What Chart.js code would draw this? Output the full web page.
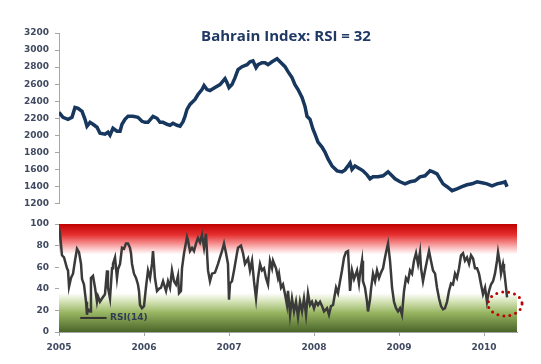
<!DOCTYPE html>
<html>
<head>
<meta charset="utf-8">
<script src="https://cdn.jsdelivr.net/npm/chart.js@4/dist/chart.umd.min.js"></script>
<style>
  body { margin: 0; background: #fff; }
  #wrap { position: relative; width: 541px; height: 364px; }
  #topBox { position: absolute; left: 0; top: 0; width: 541px; height: 215px; }
  #rsiBox { position: absolute; left: 0; top: 210px; width: 541px; height: 156px; }
  #title { position: absolute; left: 0; width: 572px; top: 25px; text-align: center;
           font: bold 15px "Open Sans", sans-serif; color: #1f3864; }
</style>
</head>
<body>
<div id="wrap">
  <div id="topBox"><canvas id="priceChart"></canvas></div>
  <div id="rsiBox"><canvas id="rsiChart"></canvas></div>
  <div id="title">Bahrain Index: RSI = 32</div>
</div>
<script>
// Bahrain index level (decimal year, index value)
const priceDates = [
  2005.000, 2005.047, 2005.106, 2005.153, 2005.188, 2005.224, 2005.271, 2005.306, 2005.329, 2005.365,
  2005.400, 2005.447, 2005.482, 2005.541, 2005.576, 2005.600, 2005.635, 2005.682, 2005.718, 2005.741,
  2005.776, 2005.812, 2005.871, 2005.929, 2005.976, 2006.012, 2006.047, 2006.106, 2006.153, 2006.188,
  2006.224, 2006.271, 2006.306, 2006.341, 2006.388, 2006.424, 2006.459, 2006.482, 2006.506, 2006.541,
  2006.600, 2006.635, 2006.682, 2006.706, 2006.741, 2006.776, 2006.835, 2006.894, 2006.953, 2006.976,
  2007.000, 2007.035, 2007.071, 2007.106, 2007.153, 2007.212, 2007.247, 2007.282, 2007.318, 2007.341,
  2007.388, 2007.424, 2007.459, 2007.506, 2007.565, 2007.600, 2007.659, 2007.694, 2007.741, 2007.776,
  2007.812, 2007.859, 2007.894, 2007.918, 2007.953, 2007.988, 2008.012, 2008.047, 2008.094, 2008.129,
  2008.165, 2008.212, 2008.271, 2008.329, 2008.365, 2008.400, 2008.424, 2008.447, 2008.482, 2008.541,
  2008.576, 2008.624, 2008.659, 2008.694, 2008.753, 2008.812, 2008.871, 2008.918, 2008.953, 2009.012,
  2009.071, 2009.129, 2009.188, 2009.247, 2009.306, 2009.365, 2009.400, 2009.447, 2009.482, 2009.518,
  2009.565, 2009.624, 2009.682, 2009.741, 2009.800, 2009.859, 2009.918, 2009.976, 2010.035, 2010.094,
  2010.153, 2010.212, 2010.247, 2010.271
];
const priceValues = [
  2270, 2211, 2188, 2211, 2328, 2316, 2281, 2188, 2107, 2153,
  2130, 2095, 2025, 2014, 2037, 2002, 2083, 2049, 2049, 2130,
  2188, 2223, 2223, 2211, 2165, 2153, 2153, 2223, 2200, 2153,
  2153, 2130, 2118, 2142, 2118, 2107, 2160, 2223, 2305, 2363,
  2421, 2479, 2537, 2584, 2537, 2526, 2560, 2595, 2665, 2619,
  2560, 2595, 2677, 2770, 2805, 2828, 2863, 2874, 2793, 2828,
  2851, 2851, 2828, 2863, 2898, 2863, 2805, 2747, 2677, 2595,
  2537, 2444, 2339, 2223, 2188, 2072, 2014, 1921, 1863, 1804,
  1723, 1642, 1584, 1572, 1595, 1642, 1677, 1600, 1642, 1607,
  1584, 1537, 1491, 1514, 1514, 1526, 1572, 1526, 1491, 1456,
  1432, 1456, 1467, 1514, 1526, 1584, 1572, 1549, 1491, 1432,
  1398, 1351, 1374, 1398, 1421, 1432, 1456, 1444, 1432, 1409,
  1432, 1444, 1456, 1398
];

// RSI(14) (decimal year, value)
const rsiDates = [
  2005.000, 2005.012, 2005.035, 2005.059, 2005.094, 2005.106, 2005.118, 2005.141, 2005.165, 2005.188,
  2005.212, 2005.235, 2005.259, 2005.271, 2005.294, 2005.318, 2005.329, 2005.341, 2005.365, 2005.376,
  2005.400, 2005.424, 2005.447, 2005.459, 2005.482, 2005.506, 2005.541, 2005.565, 2005.576, 2005.600,
  2005.624, 2005.635, 2005.659, 2005.682, 2005.694, 2005.718, 2005.741, 2005.765, 2005.788, 2005.812,
  2005.835, 2005.847, 2005.859, 2005.882, 2005.906, 2005.929, 2005.941, 2005.953, 2005.976, 2006.000,
  2006.024, 2006.047, 2006.071, 2006.094, 2006.106, 2006.129, 2006.153, 2006.176, 2006.200, 2006.224,
  2006.259, 2006.282, 2006.306, 2006.329, 2006.353, 2006.376, 2006.400, 2006.412, 2006.435, 2006.447,
  2006.471, 2006.506, 2006.518, 2006.541, 2006.565, 2006.588, 2006.612, 2006.635, 2006.659, 2006.682,
  2006.706, 2006.729, 2006.753, 2006.776, 2006.800, 2006.835, 2006.871, 2006.894, 2006.918, 2006.941,
  2006.965, 2006.988, 2007.000, 2007.012, 2007.035, 2007.059, 2007.094, 2007.106, 2007.141, 2007.165,
  2007.188, 2007.224, 2007.247, 2007.271, 2007.294, 2007.318, 2007.341, 2007.365, 2007.388, 2007.412,
  2007.435, 2007.459, 2007.482, 2007.506, 2007.518, 2007.553, 2007.576, 2007.588, 2007.612, 2007.635,
  2007.659, 2007.682, 2007.694, 2007.718, 2007.741, 2007.765, 2007.788, 2007.812, 2007.835, 2007.859,
  2007.882, 2007.906, 2007.929, 2007.953, 2007.976, 2008.000, 2008.024, 2008.047, 2008.071, 2008.094,
  2008.118, 2008.153, 2008.176, 2008.200, 2008.224, 2008.259, 2008.282, 2008.306, 2008.329, 2008.353,
  2008.376, 2008.400, 2008.412, 2008.424, 2008.447, 2008.471, 2008.506, 2008.529, 2008.541, 2008.565,
  2008.576, 2008.600, 2008.624, 2008.635, 2008.659, 2008.671, 2008.694, 2008.718, 2008.741, 2008.765,
  2008.788, 2008.812, 2008.835, 2008.859, 2008.871, 2008.894, 2008.906, 2008.918, 2008.941, 2008.965,
  2008.988, 2009.012, 2009.035, 2009.059, 2009.082, 2009.106, 2009.129, 2009.153, 2009.176, 2009.200,
  2009.224, 2009.247, 2009.259, 2009.282, 2009.306, 2009.329, 2009.353, 2009.376, 2009.400, 2009.424,
  2009.447, 2009.471, 2009.494, 2009.518, 2009.541, 2009.565, 2009.588, 2009.612, 2009.635, 2009.659,
  2009.682, 2009.706, 2009.729, 2009.753, 2009.776, 2009.800, 2009.824, 2009.847, 2009.871, 2009.894,
  2009.918, 2009.941, 2009.965, 2009.988, 2010.012, 2010.035, 2010.059, 2010.082, 2010.106, 2010.129,
  2010.153, 2010.165, 2010.188, 2010.200, 2010.224, 2010.235, 2010.259, 2010.271
];
const rsiValues = [
  96, 91, 71, 69, 59, 57, 42, 50, 54, 66,
  77, 74, 63, 49, 44, 28, 16, 21, 19, 50,
  52, 41, 28, 33, 28, 31, 35, 57, 41, 31,
  59, 63, 69, 50, 58, 63, 78, 77, 82, 82,
  78, 73, 63, 54, 50, 44, 38, 25, 22, 24,
  42, 57, 50, 63, 75, 50, 38, 40, 41, 47,
  38, 47, 41, 57, 47, 44, 52, 36, 38, 59,
  73, 88, 85, 75, 78, 75, 82, 87, 83, 90,
  78, 91, 57, 47, 54, 55, 63, 69, 75, 82,
  73, 63, 30, 45, 47, 57, 73, 78, 80, 73,
  63, 68, 57, 66, 47, 31, 50, 63, 57, 59,
  50, 44, 66, 59, 66, 59, 50, 54, 41, 44,
  35, 25, 38, 16, 31, 19, 28, 14, 28, 19,
  31, 16, 36, 25, 28, 22, 28, 25, 28, 24,
  19, 22, 16, 24, 25, 41, 36, 47, 57, 69,
  74, 75, 57, 38, 57, 49, 57, 45, 54, 66,
  47, 41, 28, 19, 30, 40, 54, 47, 57, 50,
  55, 59, 69, 78, 82, 66, 54, 41, 28, 22,
  19, 22, 16, 38, 50, 47, 57, 54, 66, 73,
  63, 74, 59, 47, 57, 66, 75, 66, 57, 54,
  41, 31, 24, 21, 22, 28, 38, 45, 44, 54,
  50, 59, 71, 73, 66, 69, 63, 71, 68, 59,
  59, 54, 44, 35, 41, 28, 38, 44, 47, 54,
  66, 74, 63, 54, 63, 58, 41, 32
];

const yearTicks = [2005, 2006, 2007, 2008, 2009, 2010];
const xMin = 2005;
const xMax = 2010.388;

const tickFont = { family: 'DejaVu Sans', size: 9, weight: 'bold' };
const tickColor = '#404a60';
const axisGray = '#a6a6a6';

function points(xs, ys) {
  return xs.map((x, i) => ({ x: x, y: ys[i] }));
}

function fixWidth(scale) { scale.width = 59; }
const plain = v => String(v);

// price panel
new Chart(document.getElementById('priceChart'), {
  type: 'line',
  data: {
    datasets: [{
      data: points(priceDates, priceValues),
      borderColor: '#17375e',
      borderWidth: 3.5,
      pointRadius: 0,
      tension: 0
    }]
  },
  options: {
    responsive: true,
    maintainAspectRatio: false,
    animation: false,
    layout: { padding: { top: 33, bottom: 10, right: 24, left: 0 } },
    plugins: { legend: { display: false }, tooltip: { enabled: false } },
    scales: {
      x: { type: 'linear', min: xMin, max: xMax, display: false },
      y: {
        min: 1200, max: 3200,
        afterFit: fixWidth,
        ticks: { stepSize: 200, font: tickFont, color: tickColor, padding: 6, callback: plain },
        grid: { drawOnChartArea: false, drawTicks: true, tickLength: 4, color: axisGray },
        border: { display: true, color: axisGray }
      }
    }
  }
});

// background bands: red overbought, white, green oversold
const rsiBands = {
  id: 'rsiBands',
  beforeDatasetsDraw(chart) {
    const { ctx, chartArea: a, scales: { y } } = chart;
    const g = ctx.createLinearGradient(0, a.top, 0, a.bottom);
    const stop = (v, c) => g.addColorStop((y.getPixelForValue(v) - a.top) / (a.bottom - a.top), c);
    stop(100, '#c00000');
    stop(90, '#e53030');
    stop(80, '#f9a5a5');
    stop(72, '#ffffff');
    stop(36, '#ffffff');
    stop(28, '#d4e2b6');
    stop(18, '#98b662');
    stop(0, '#4a652a');
    ctx.save();
    ctx.fillStyle = g;
    ctx.fillRect(a.left, a.top, a.right - a.left, a.bottom - a.top);
    ctx.restore();
  },
  afterDatasetsDraw(chart) {
    const { ctx, scales: { x, y } } = chart;
    // legend
    ctx.save();
    ctx.strokeStyle = '#333';
    ctx.lineWidth = 2;
    const ly = y.getPixelForValue(13);
    ctx.beginPath();
    ctx.moveTo(x.getPixelForValue(2005.25), ly);
    ctx.lineTo(x.getPixelForValue(2005.56), ly);
    ctx.stroke();
    ctx.fillStyle = '#2e3d52';
    ctx.font = 'bold 9px "DejaVu Sans"';
    ctx.textBaseline = 'middle';
    ctx.fillText('RSI(14)', x.getPixelForValue(2005.6), ly);
    // dotted ring around the latest reading
    const last = rsiDates.length - 1;
    const cx = x.getPixelForValue(rsiDates[last]) - 2;
    const cy = y.getPixelForValue(26);
    ctx.strokeStyle = '#c00000';
    ctx.lineWidth = 3;
    ctx.lineCap = 'round';
    ctx.setLineDash([0, 6]);
    ctx.beginPath();
    ctx.ellipse(cx, cy, 17, 12, 0, 0, Math.PI * 2);
    ctx.stroke();
    ctx.restore();
  }
};

// RSI panel
new Chart(document.getElementById('rsiChart'), {
  type: 'line',
  data: {
    datasets: [{
      data: points(rsiDates, rsiValues),
      borderColor: '#3a3a3a',
      borderWidth: 2.5,
      pointRadius: 0,
      tension: 0
    }]
  },
  options: {
    responsive: true,
    maintainAspectRatio: false,
    animation: false,
    layout: { padding: { top: 14, bottom: 0, right: 24, left: 0 } },
    plugins: { legend: { display: false }, tooltip: { enabled: false } },
    scales: {
      x: {
        type: 'linear', min: xMin, max: xMax,
        afterFit(scale) { scale.height = 34; },
        afterBuildTicks(scale) { scale.ticks = yearTicks.map(v => ({ value: v })); },
        ticks: { font: tickFont, color: tickColor, padding: 6, maxRotation: 0, callback: plain },
        grid: { drawOnChartArea: false, drawTicks: true, tickLength: 4, color: axisGray },
        border: { display: true, color: axisGray }
      },
      y: {
        min: 0, max: 100,
        afterFit: fixWidth,
        ticks: { stepSize: 10, font: tickFont, color: tickColor, padding: 6, callback: plain },
        grid: { drawOnChartArea: false, drawTicks: true, tickLength: 4, color: axisGray },
        border: { display: true, color: axisGray }
      }
    }
  },
  plugins: [rsiBands]
});
</script>
</body>
</html>
